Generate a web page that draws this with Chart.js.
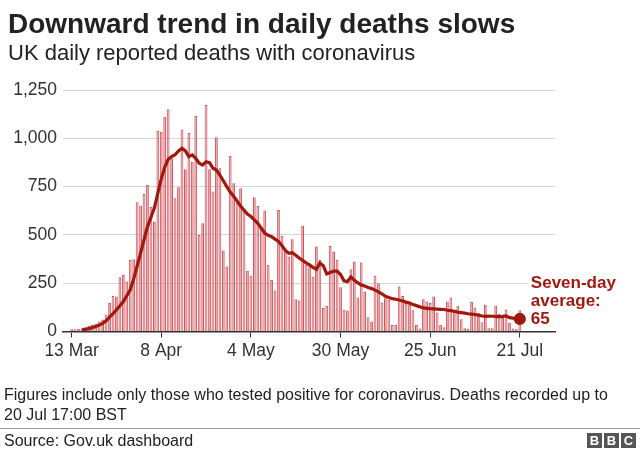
<!DOCTYPE html>
<html>
<head>
<meta charset="utf-8">
<script src="https://cdn.jsdelivr.net/npm/chart.js@4.4.1/dist/chart.umd.min.js"></script>
<style>
  html, body { margin: 0; padding: 0; background: #fff; }
  body { width: 640px; height: 450px; position: relative; overflow: hidden;
         font-family: "Liberation Sans", Arial, sans-serif; color: #222; }
  #chart { position: absolute; left: 0; top: 0; }
  .txt { position: absolute; white-space: nowrap; }
  #title { left: 8px; top: 8px; font-size: 28px; line-height: 32px; font-weight: bold; }
  #subtitle { left: 8px; top: 40px; font-size: 22px; line-height: 26px; }
  #note { left: 4px; top: 385px; font-size: 16px; line-height: 20px; }
  #rule { position: absolute; left: 0; top: 428px; width: 640px; height: 1px; background: #999; }
  #source { left: 4px; top: 432px; font-size: 16px; line-height: 18px; }
  #bbc { position: absolute; right: 4px; top: 433px; display: flex; gap: 2px; }
  #bbc span { width: 15px; height: 15px; background: #555; color: #fff; font-weight: bold;
              font-size: 13px; line-height: 15px; text-align: center; }
</style>
</head>
<body>
<canvas id="chart" width="640" height="450"></canvas>
<div class="txt" id="title">Downward trend in daily deaths slows</div>
<div class="txt" id="subtitle">UK daily reported deaths with coronavirus</div>
<div class="txt" id="note">Figures include only those who tested positive for coronavirus. Deaths recorded up to<br>20 Jul 17:00 BST</div>
<div id="rule"></div>
<div class="txt" id="source">Source: Gov.uk dashboard</div>
<div id="bbc"><span>B</span><span>B</span><span>C</span></div>
<script>
// day 0 = 13 Mar, last day = 21 Jul
const tickDays = [0, 26, 52, 78, 104, 130]
const tickLabels = ["13 Mar", "8 Apr", "4 May", "30 May", "25 Jun", "21 Jul"]
const yTicks = [0, 250, 500, 750, 1000, 1250]

const dailyDeaths = [
    11, 12, 14, 16, 22, 30, 33, 40, 52, 62,
    87, 147, 184, 181, 281, 293, 259, 370, 374, 669,
    652, 712, 758, 646, 569, 1038, 1034, 1112, 1150, 896,
    690, 746, 1046, 840, 1029, 879, 1115, 500, 560, 1172,
    840, 724, 1005, 845, 419, 336, 908, 767, 672, 741,
    620, 315, 288, 695, 650, 543, 626, 345, 267, 212,
    629, 496, 414, 388, 478, 167, 160, 548, 345, 336,
    284, 440, 371, 121, 133, 443, 414, 371, 229, 112,
    109, 322, 362, 176, 357, 207, 74, 52, 288, 250,
    150, 172, 164, 34, 34, 233, 184, 147, 138, 110,
    34, 15, 167, 155, 147, 181, 98, 34, 22, 155,
    176, 95, 133, 64, 17, 14, 153, 124, 95, 48,
    138, 17, 17, 135, 90, 70, 114, 45, 15, 12,
    110
]

const sevenDayAvg = [
    null, null, null, 9, 11, 15, 20, 26, 33, 42,
    55, 74, 92, 112, 133, 155, 185, 216, 271, 340,
    405, 475, 543, 590, 640, 715, 790, 850, 891, 905,
    915, 935, 948, 935, 905, 914, 896, 871, 862, 879,
    874, 845, 836, 810, 780, 750, 722, 700, 675, 650,
    628, 608, 595, 578, 560, 535, 510, 498, 491, 478,
    466, 445, 420, 405, 408, 395, 380, 368, 355, 345,
    332, 322, 355, 340, 298, 305, 312, 312, 295, 262,
    258, 282, 265, 252, 241, 235, 228, 222, 214, 205,
    195, 182, 176, 170, 167, 163, 158, 152, 147, 140,
    134, 128, 122, 120, 118, 117, 116, 115, 114, 110,
    108, 104, 100, 98, 95, 92, 90, 88, 85, 80,
    78, 80, 79, 78, 77, 78, 81, 72, 69, 67,
    65
]

const lineRed = "#a0190f"
const fontName = '"Liberation Sans", Arial, sans-serif'

const barPoints = dailyDeaths.map((v, i) => ({ x: i, y: v }))
const avgPoints = []
sevenDayAvg.forEach((v, i) => { if (v !== null) avgPoints.push({ x: i, y: v }) })

const endLabel = {
    id: 'endLabel',
    afterDatasetsDraw(chart) {
        const ctx = chart.ctx
        const meta = chart.getDatasetMeta(1)
        const pt = meta.data[meta.data.length - 1]
        ctx.save()
        ctx.fillStyle = '#fff'
        ctx.fillRect(pt.x + 8, pt.y - 47, 120, 56)
        ctx.fillStyle = lineRed
        ctx.font = 'bold 17px ' + fontName
        ctx.textBaseline = 'middle'
        ctx.textAlign = 'left'
        ctx.fillText('Seven-day', pt.x + 11, pt.y - 36)
        ctx.fillText('average:', pt.x + 11, pt.y - 18)
        ctx.fillText(String(sevenDayAvg[sevenDayAvg.length - 1]), pt.x + 11, pt.y)
        ctx.restore()
    }
}

const config = {
    type: 'bar',
    data: {
        datasets: [
            {
                type: 'bar',
                label: 'Daily deaths',
                data: barPoints,
                backgroundColor: '#e8999d',
                borderColor: '#d0545b',
                borderWidth: { left: 1, right: 1, top: 1, bottom: 0 },
                borderSkipped: 'bottom',
                barPercentage: 0.8,
                categoryPercentage: 1,
                order: 2
            },
            {
                type: 'line',
                label: 'Seven-day average',
                data: avgPoints,
                borderColor: lineRed,
                backgroundColor: lineRed,
                borderWidth: 3.2,
                tension: 0,
                pointRadius: ctx => ctx.dataIndex === avgPoints.length - 1 ? 4.5 : 0,
                pointHoverRadius: 0,
                order: 1
            }
        ]
    },
    options: {
        responsive: false,
        animation: false,
        layout: { padding: { left: 0, right: 85, top: 90, bottom: 88.5 } },
        plugins: {
            legend: { display: false },
            tooltip: { enabled: false }
        },
        scales: {
            x: {
                type: 'linear',
                offset: false,
                min: -2.5,
                max: 140.2,
                afterBuildTicks: axis => { axis.ticks = tickDays.map(v => ({ value: v })) },
                afterFit: axis => { axis.height = 30 },
                border: { display: true, color: '#333', width: 1.5 },
                grid: { offset: false, drawOnChartArea: false, drawTicks: true, tickLength: 6, color: '#333' },
                ticks: {
                    autoSkip: false,
                    maxRotation: 0,
                    padding: 3,
                    color: '#333',
                    font: { family: fontName, size: 17.5 },
                    callback: v => tickLabels[tickDays.indexOf(v)]
                }
            },
            y: {
                min: 0,
                max: 1250,
                afterBuildTicks: axis => { axis.ticks = yTicks.map(v => ({ value: v })) },
                afterFit: axis => { axis.width = 63 },
                border: { display: false },
                grid: {
                    drawTicks: false,
                    color: ctx => ctx.tick && ctx.tick.value === 0 ? 'rgba(0,0,0,0)' : '#d6d6d6'
                },
                ticks: {
                    padding: 6,
                    color: '#333',
                    font: { family: fontName, size: 17.5 },
                    callback: v => v.toLocaleString('en-GB')
                }
            }
        }
    },
    plugins: [endLabel]
}

new Chart(document.getElementById('chart'), config)
</script>
</body>
</html>
